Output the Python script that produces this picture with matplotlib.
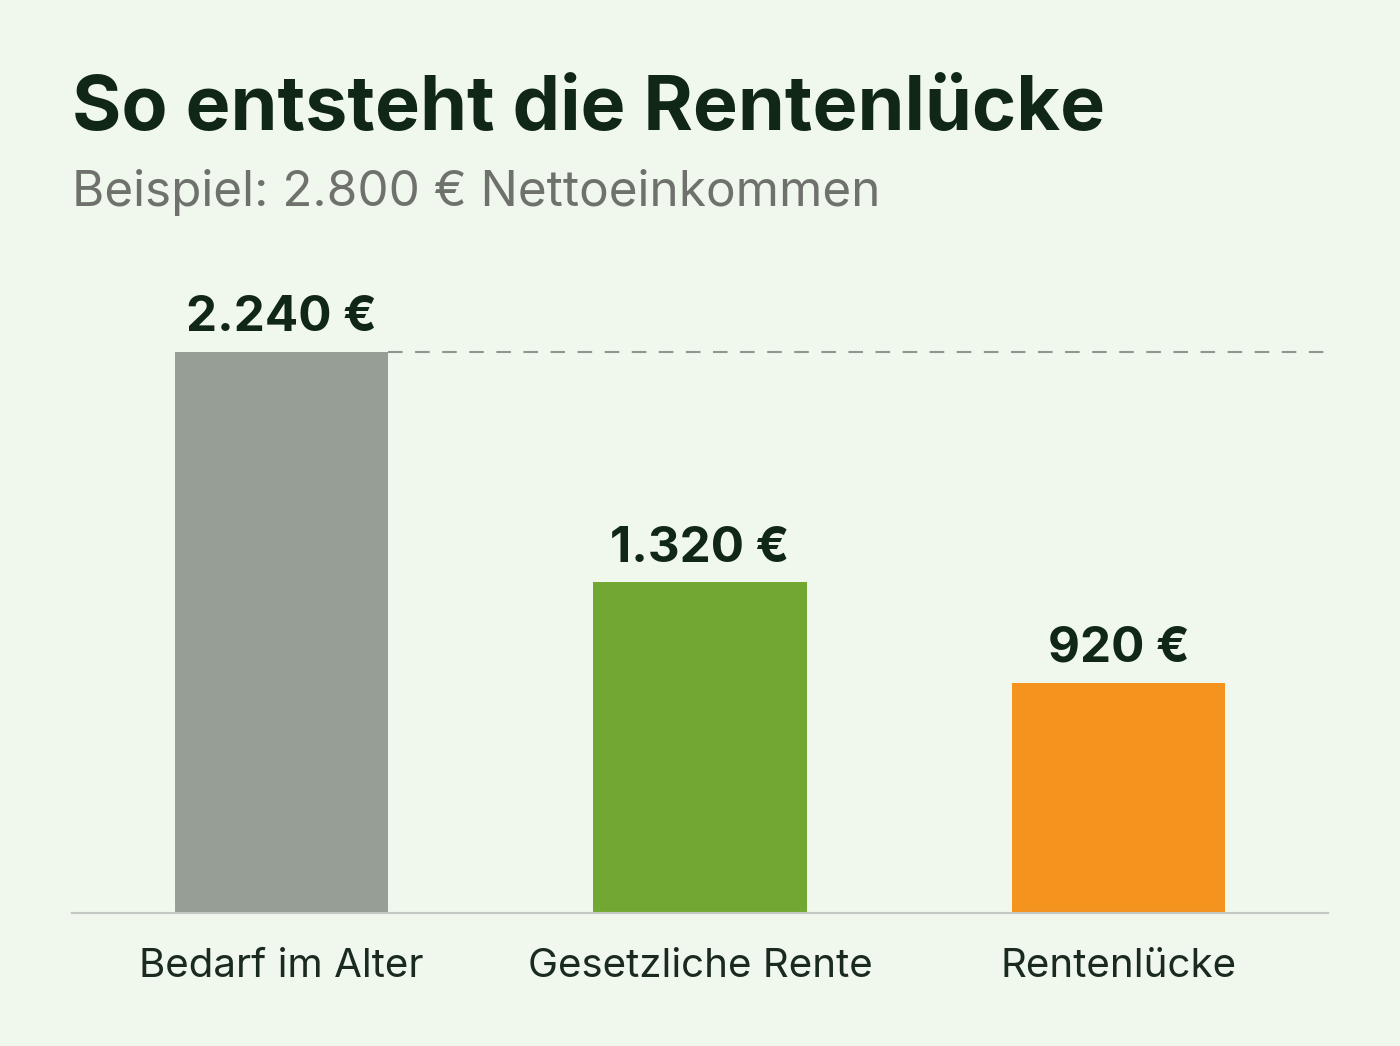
import matplotlib
matplotlib.use("Agg")
import matplotlib.pyplot as plt

categories = ["Bedarf im Alter", "Gesetzliche Rente", "Rentenlücke"]
values = [2240, 1320, 920]
value_labels = ["2.240 €", "1.320 €", "920 €"]
colors = ["#979e95", "#72a832", "#f5931f"]

title = "So entsteht die Rentenlücke"
subtitle = "Beispiel: 2.800 € Nettoeinkommen"

BG = "#f0f7ec"
DARK = "#102716"

plt.rcParams['font.family'] = ['Inter', 'DejaVu Sans']

W, H = 1400, 1046
fig = plt.figure(figsize=(W / 100, H / 100), dpi=100, facecolor=BG)

ax_left, ax_right = 72, 1328
ax_bottom, ax_top = 913, 262
ax = fig.add_axes([ax_left / W, 1 - ax_bottom / H,
                   (ax_right - ax_left) / W, (ax_bottom - ax_top) / H])
ax.set_facecolor(BG)

x = list(range(len(categories)))
bw = 0.51
ax.bar(x, values, width=bw, color=colors, zorder=2)
ax.set_xlim(-0.5, 2.5)
ax.set_ylim(0, 2600)

for s in ["top", "right", "left"]:
    ax.spines[s].set_visible(False)
ax.spines["bottom"].set_color("#c4c8c2")
ax.spines["bottom"].set_linewidth(1.5)
ax.spines["bottom"].set_zorder(3)
ax.set_yticks([])
ax.set_xticks(x)
ax.set_xticklabels(categories, fontsize=29, color="#1a2a1e")
ax.tick_params(axis="x", length=0, pad=25)

# dashed reference line at need level
ax.plot([x[0] + bw / 2, 2.5], [values[0], values[0]], color="#8f968d",
        lw=1.5, dashes=(7, 6), zorder=1, clip_on=False)

for xi, v, lab in zip(x, values, value_labels):
    ax.annotate(lab, (xi, v), xytext=(0, 15), textcoords="offset points",
                ha="center", va="baseline", fontsize=35.5, fontweight="bold",
                color=DARK)

fig.text(72 / W, 1 - 130 / H, title, fontsize=54.3, fontweight="bold",
         color=DARK, ha="left", va="baseline")
fig.text(72 / W, 1 - 206 / H, subtitle, fontsize=35.6, color="#6f716d",
         ha="left", va="baseline")

fig.savefig("out.png", dpi=100, facecolor=BG)
